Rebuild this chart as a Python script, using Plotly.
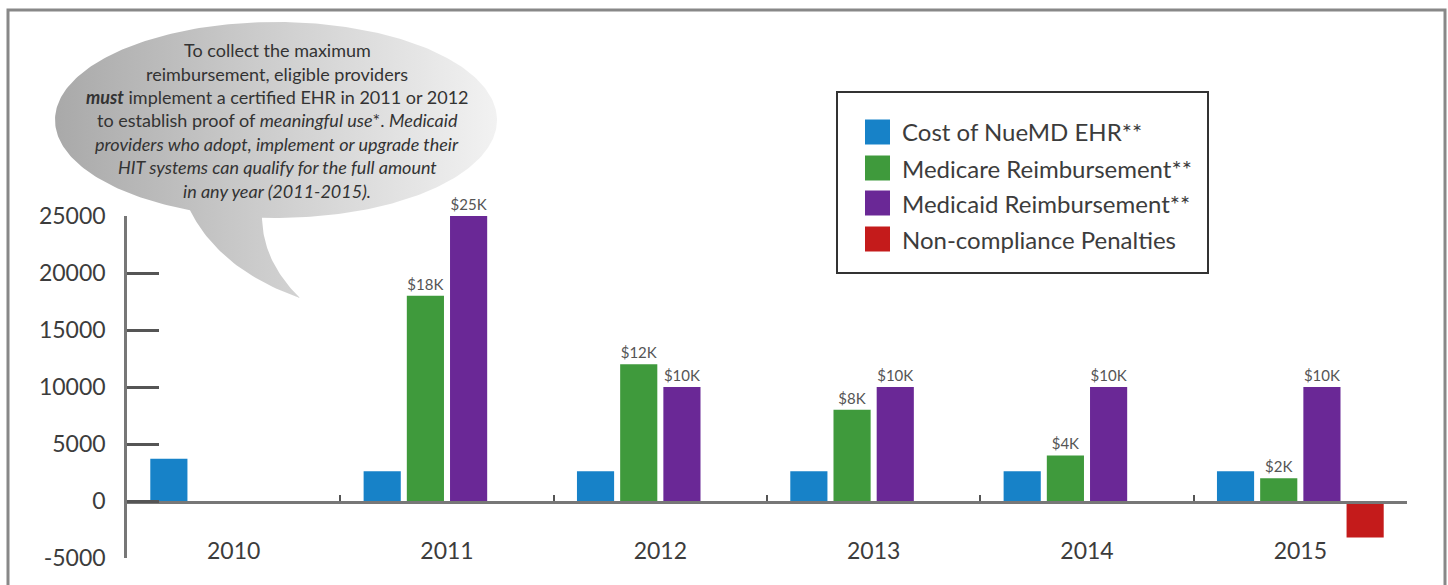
import numpy as np
import plotly.graph_objects as go

# ---------------- data ----------------
years = ["2010", "2011", "2012", "2013", "2014", "2015"]
ehr_cost = [3700, 2600, 2600, 2600, 2600, 2600]
medicare = [None, 18000, 12000, 8000, 4000, 2000]
medicaid = [None, 25000, 10000, 10000, 10000, 10000]
penalties = [None, None, None, None, None, -3200]
medicare_labels = ["", "$18K", "$12K", "$8K", "$4K", "$2K"]
medicaid_labels = ["", "$25K", "$10K", "$10K", "$10K", "$10K"]
y_ticks = [-5000, 0, 5000, 10000, 15000, 20000, 25000]
y_tick_labels = ["-5000", "0", "5000", "10000", "15000", "20000", "25000"]

series_names = ["Cost of NueMD EHR**", "Medicare Reimbursement**",
                "Medicaid Reimbursement**", "Non-compliance Penalties"]
series_colors = ["#1782c8", "#3f9a3c", "#6a2896", "#c41b1b"]

bubble_lines = [
    "To collect the maximum",
    "reimbursement, eligible providers",
    "<b><i>must</i></b> implement a certified EHR in 2011 or 2012",
    "to establish proof of <i>meaningful use</i>*. <i>Medicaid</i>",
    "<i>providers who adopt, implement or upgrade their</i>",
    "<i>HIT systems can qualify for the full amount</i>",
    "<i>in any year (2011-2015).</i>",
]

W, H = 1448, 585
FONT = "Lato"
TXT = "#3c3c3c"

fig = go.Figure()

values = [ehr_cost, medicare, medicaid, penalties]
texts = [None, medicare_labels, medicaid_labels, None]
for name, vals, col, txt in zip(series_names, values, series_colors, texts):
    fig.add_trace(go.Bar(
        x=years, y=vals, name=name,
        marker=dict(color=col, line=dict(width=0)),
        text=txt, textposition="outside" if txt else None,
        textfont=dict(size=15, color="#555555", family=FONT),
        cliponaxis=False, constraintext="none",
        showlegend=False, hoverinfo="skip",
    ))

# ---------------- speech bubble (pixel overlay axes) ----------------
cx, cy, rx, ry = 276, 120, 221, 98
t_left = np.degrees(np.arccos((190 - cx) / rx))
t_right = np.degrees(np.arccos((262 - cx) / rx))
ts = np.radians(np.linspace(t_left, 360 + t_right, 300))
ex = cx + rx * np.cos(ts)
ey = cy + ry * np.sin(ts)
p_r = (ex[-1], ey[-1])
p_l = (ex[0], ey[0])
tip = (300, 298)
s = np.linspace(0, 1, 40)


def qbez(p0, c, p1, s):
    x = (1 - s) ** 2 * p0[0] + 2 * (1 - s) * s * c[0] + s ** 2 * p1[0]
    y = (1 - s) ** 2 * p0[1] + 2 * (1 - s) * s * c[1] + s ** 2 * p1[1]
    return x, y


rx1, ry1 = qbez(p_r, (263, 262), tip, s)
lx1, ly1 = qbez(tip, (220, 270), p_l, s)
bx = np.concatenate([ex, rx1, lx1])
by = np.concatenate([ey, ry1, ly1])

fig.add_trace(go.Scatter(
    x=bx, y=by, xaxis="x2", yaxis="y2", mode="lines", fill="toself",
    line=dict(width=0, color="rgba(0,0,0,0)"),
    fillgradient=dict(type="horizontal",
                      colorscale=[[0, "#a9a9a9"], [0.45, "#cbcbcb"], [1, "#f2f2f2"]]),
    showlegend=False, hoverinfo="skip",
))

annotations = []
line_y = [50, 74, 97, 120, 144, 167, 191]
for txt, yy in zip(bubble_lines, line_y):
    annotations.append(dict(
        x=277 / W, y=1 - yy / H, xref="paper", yref="paper",
        text=txt, showarrow=False, xanchor="center", yanchor="middle",
        font=dict(size=18, color="#333333", family=FONT),
    ))

# ---------------- custom legend ----------------
shapes = []
shapes.append(dict(type="rect", xref="paper", yref="paper",
                   x0=8 / W, x1=1445 / W, y0=-0.05, y1=1 - 10 / H,
                   line=dict(color="#888888", width=3), fillcolor="rgba(0,0,0,0)"))
shapes.append(dict(type="rect", xref="paper", yref="paper",
                   x0=837 / W, x1=1208 / W, y0=1 - 273 / H, y1=1 - 92 / H,
                   line=dict(color="#333333", width=2), fillcolor="white"))
leg_y = [132, 168, 203, 239]
for name, col, yy in zip(series_names, series_colors, leg_y):
    shapes.append(dict(type="rect", xref="paper", yref="paper",
                       x0=865 / W, x1=890 / W, y0=1 - (yy + 12.5) / H, y1=1 - (yy - 12.5) / H,
                       line=dict(width=0), fillcolor=col))
    annotations.append(dict(
        x=900 / W, y=1 - yy / H, xref="paper", yref="paper", text=name,
        showarrow=False, xanchor="left", yanchor="middle",
        font=dict(size=24, color=TXT, family=FONT),
    ))

x0_px, x1_px = 127, 1407
y_top_px, y_bot_px = 216, 558
zero_px = 501.5

fig.update_layout(
    width=W, height=H,
    margin=dict(l=0, r=0, t=0, b=0, autoexpand=False),
    paper_bgcolor="white", plot_bgcolor="rgba(0,0,0,0)",
    barmode="group", bargap=0.19, bargroupgap=0.14,
    font=dict(family=FONT, color=TXT),
    xaxis=dict(
        type="category", categoryorder="array", categoryarray=years,
        range=[-0.5, 5.5], domain=[x0_px / W, x1_px / W],
        anchor="free", position=1 - zero_px / H, automargin=False,
        showline=True, linecolor="#777777", linewidth=2.5,
        ticks="inside", tickson="boundaries", ticklen=6, tickwidth=1.5, tickcolor="#555555",
        tickfont=dict(size=23, color=TXT, family=FONT), ticklabelstandoff=28,
        showgrid=False, zeroline=False, fixedrange=True,
    ),
    yaxis=dict(
        range=[-5000, 25000], domain=[1 - y_bot_px / H, 1 - y_top_px / H],
        tickvals=y_ticks, ticktext=y_tick_labels, automargin=False,
        showline=True, linecolor="#777777", linewidth=2.5,
        ticks="inside", ticklen=32, tickwidth=2.5, tickcolor="#555555",
        tickfont=dict(size=23, color=TXT, family=FONT), ticklabelstandoff=14,
        showgrid=False, zeroline=False, fixedrange=True,
    ),
    xaxis2=dict(domain=[0, 1], range=[0, W], visible=False, anchor="y2",
                fixedrange=True, automargin=False),
    yaxis2=dict(domain=[0, 1], range=[H, 0], visible=False, anchor="x2",
                fixedrange=True, automargin=False),
    shapes=shapes,
    annotations=annotations,
)

fig.write_html("out.html")
